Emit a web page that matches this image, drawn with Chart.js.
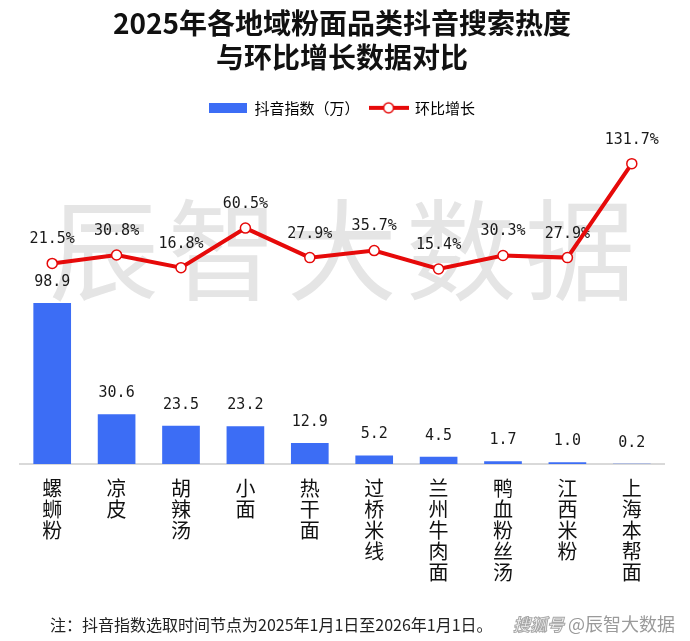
<!DOCTYPE html>
<html>
<head>
<meta charset="utf-8">
<script src="https://cdn.jsdelivr.net/npm/chart.js@4.4.1/dist/chart.umd.min.js"></script>
<style>
  html, body { margin: 0; padding: 0; background: #fff; }
  #wrap { position: relative; width: 690px; height: 641px; }
  #note {
    position: absolute; left: 50px; top: 612px;
    font: 16px "Noto Sans CJK SC", sans-serif; color: #222;
  }
  #logo {
    position: absolute; left: 513px; top: 610px;
    font: 18px "Noto Sans CJK SC", sans-serif; color: #9a9a9a;
  }
  #logo i {
    color: #f4f4f4; -webkit-text-stroke: 1px #a8a8a8; font-weight: bold;
    font-size: 17px; margin-right: 4px;
  }
</style>
</head>
<body>
<div id="wrap">
  <canvas id="chart" width="690" height="641"></canvas>
  <div id="note">注：抖音指数选取时间节点为2025年1月1日至2026年1月1日。</div>
  <div id="logo"><i>搜狐号</i>@辰智大数据</div>
</div>
<script>
// 品类（竖排显示）
const categories = ["螺蛳粉", "凉皮", "胡辣汤", "小面", "热干面", "过桥米线", "兰州牛肉面", "鸭血粉丝汤", "江西米粉", "上海本帮面"];
// 抖音指数（万）
const indexValues = [98.9, 30.6, 23.5, 23.2, 12.9, 5.2, 4.5, 1.7, 1.0, 0.2];
// 环比增长（%）
const growthValues = [21.5, 30.8, 16.8, 60.5, 27.9, 35.7, 15.4, 30.3, 27.9, 131.7];

const titleLines = ["2025年各地域粉面品类抖音搜索热度", "与环比增长数据对比"];
const watermark = "辰智大数据";

const BLUE = "#3c6df5";
const RED = "#e60a0a";

Chart.defaults.font.family = '"Noto Sans CJK SC", sans-serif';
Chart.defaults.color = "#222";

// legend swatches
function barSwatch() {
  const c = document.createElement("canvas");
  c.width = 38; c.height = 10;
  const g = c.getContext("2d");
  g.fillStyle = BLUE;
  g.fillRect(0, 0, 38, 10);
  return c;
}
function lineSwatch() {
  const c = document.createElement("canvas");
  c.width = 40; c.height = 14;
  const g = c.getContext("2d");
  g.strokeStyle = RED; g.lineWidth = 4;
  g.beginPath(); g.moveTo(0, 7); g.lineTo(40, 7); g.stroke();
  g.beginPath(); g.arc(20, 7, 5, 0, Math.PI * 2);
  g.fillStyle = "#fff"; g.fill();
  g.lineWidth = 1.5; g.stroke();
  return c;
}

// watermark + value labels
const decorations = {
  id: "decorations",
  beforeDatasetsDraw(chart) {
    const ctx = chart.ctx;
    ctx.save();
    ctx.font = '110px "Noto Sans CJK SC", sans-serif';
    ctx.fillStyle = "#e5e5e5";
    ctx.textAlign = "center";
    ctx.textBaseline = "middle";
    [...watermark].forEach((ch, i) => {
      ctx.fillText(ch, 342 + (i - 2) * 119, 250);
    });
    ctx.restore();

    ctx.save();
    ctx.font = '15px "DejaVu Sans Mono", monospace';
    ctx.fillStyle = "#1a1a1a";
    ctx.textAlign = "center";
    ctx.textBaseline = "middle";
    chart.getDatasetMeta(0).data.forEach((bar, i) => {
      ctx.fillText(indexValues[i].toFixed(1), bar.x, bar.y - 21);
    });
    chart.getDatasetMeta(1).data.forEach((pt, i) => {
      ctx.fillText(growthValues[i].toFixed(1) + "%", pt.x, pt.y - 24);
    });
    ctx.restore();
  },
};

new Chart(document.getElementById("chart"), {
  type: "bar",
  data: {
    labels: categories.map((c) => [...c]),
    datasets: [
      {
        type: "bar",
        label: "抖音指数（万）",
        data: indexValues,
        backgroundColor: BLUE,
        yAxisID: "y",
        categoryPercentage: 1,
        barPercentage: 0.585,
        order: 2,
      },
      {
        type: "line",
        label: "环比增长",
        data: growthValues,
        borderColor: RED,
        borderWidth: 4,
        pointRadius: 5,
        pointBackgroundColor: "#fff",
        pointBorderColor: RED,
        pointBorderWidth: 1.5,
        tension: 0,
        yAxisID: "y1",
        order: 1,
      },
    ],
  },
  options: {
    responsive: false,
    animation: false,
    layout: { padding: { left: 20, right: 26, top: 0, bottom: 44 } },
    plugins: {
      title: {
        display: true,
        text: titleLines,
        color: "#111",
        font: { size: 28, weight: "bold", lineHeight: 1.22 },
        padding: { top: 6, bottom: 16 },
      },
      legend: {
        labels: {
          usePointStyle: true,
          pointStyleWidth: 38,
          padding: 10,
          font: { size: 15 },
          color: "#222",
          generateLabels(chart) {
            return chart.data.datasets.map((ds, i) => ({
              text: ds.label,
              datasetIndex: i,
              pointStyle: i === 0 ? barSwatch() : lineSwatch(),
              fillStyle: "transparent",
              strokeStyle: "transparent",
              lineWidth: 0,
              hidden: false,
            }));
          },
        },
      },
      tooltip: { enabled: false },
    },
    scales: {
      x: {
        grid: { display: false, drawTicks: false },
        border: { display: true, color: "#d9d9d9", width: 2 },
        ticks: {
          autoSkip: false,
          maxRotation: 0,
          padding: 14,
          color: "#111",
          font: { size: 20, lineHeight: 1.05 },
        },
      },
      y: { display: false, min: 0, max: 208 },
      y1: { display: false, min: -200, max: 174 },
    },
  },
  plugins: [decorations],
});
</script>
</body>
</html>
